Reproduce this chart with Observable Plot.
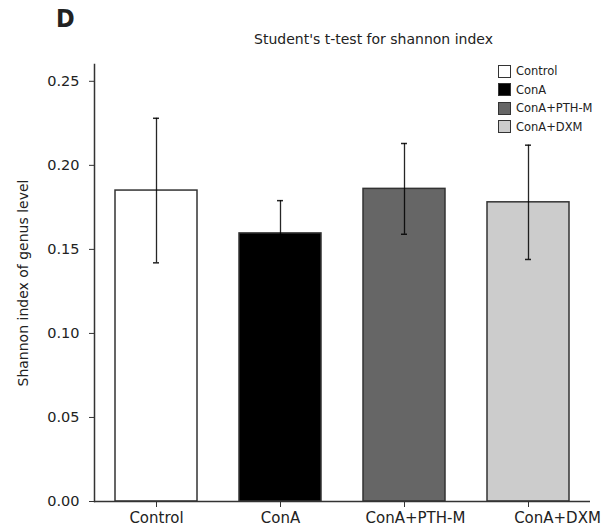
<!DOCTYPE html>
<html>
<head>
<meta charset="utf-8">
<script src="https://cdn.jsdelivr.net/npm/d3@7"></script>
<script src="https://cdn.jsdelivr.net/npm/@observablehq/plot@0.6"></script>
<style>
  html, body { margin: 0; padding: 0; background: #fff; }
  #wrap { position: relative; width: 605px; height: 531px; font-family: "DejaVu Sans", sans-serif; color: #222; }
  #wrap svg { position: absolute; left: 0; top: 0; }
  #panel { position: absolute; left: 56px; top: 4px; font-size: 25px; font-weight: bold; font-family: "DejaVu Sans Condensed", "DejaVu Sans", sans-serif; }
  #title { position: absolute; left: 0; width: 747px; top: 31px; text-align: center; font-size: 14px; }
  #legend { position: absolute; left: 498px; top: 62px; font-size: 11.5px; line-height: 18.5px; }
  #legend .row { display: flex; align-items: center; }
  #legend .sw { border: 1px solid #333; margin-right: 5px; box-sizing: border-box; width: 13px; height: 13px; }
</style>
</head>
<body>
<div id="wrap">
  <div id="panel">D</div>
  <div id="title">Student's t-test for shannon index</div>
  <div id="legend"></div>
</div>
<script>
// Groups, mean Shannon index and error half-widths
const groups = ["Control", "ConA", "ConA+PTH-M", "ConA+DXM"];
const means = [0.185, 0.1595, 0.186, 0.178];
const errors = [0.043, 0.0195, 0.027, 0.034];
const fills = ["#ffffff", "#000000", "#666666", "#cccccc"];
const yTicks = [0, 0.05, 0.10, 0.15, 0.20, 0.25];

const rows = groups.map((g, i) => ({group: g, mean: means[i], lo: means[i] - errors[i], hi: means[i] + errors[i]}));

const ink = "#333";
const whisker = "#000";
const fontFamily = '"DejaVu Sans", sans-serif';

const chart = Plot.plot({
  width: 605,
  height: 531,
  marginLeft: 94,
  marginRight: 15,
  marginTop: 64,
  marginBottom: 30,
  style: {fontFamily, fontSize: "14.5px", color: "#222", background: "transparent"},
  x: {domain: groups, paddingInner: 0.34, paddingOuter: 0.17},
  y: {domain: [0, 0.26]},
  color: {domain: groups, range: fills},
  marks: [
    Plot.barY(rows, {x: "group", y: "mean", fill: "group", stroke: ink, strokeWidth: 1.5}),
    Plot.ruleX(rows, {x: "group", y1: "lo", y2: "hi", stroke: whisker, strokeWidth: 1.3, strokeOpacity: 0.85}),
    Plot.tickY(rows, {x: "group", y: "lo", stroke: whisker, strokeWidth: 1.5, strokeOpacity: 0.85, insetLeft: 38, insetRight: 38}),
    Plot.tickY(rows, {x: "group", y: "hi", stroke: whisker, strokeWidth: 1.5, strokeOpacity: 0.85, insetLeft: 38, insetRight: 38}),
    Plot.axisY({ticks: yTicks, tickFormat: d3.format(".2f"), tickSize: 5, tickPadding: 10, stroke: ink,
      label: "Shannon index of genus level", labelAnchor: "center", labelArrow: "none", labelOffset: 76,
      fontSize: 14.5}),
    Plot.axisX({tickSize: 6, tickPadding: 5, stroke: ink, label: null, fontSize: 15}),
    Plot.frame({anchor: "left", stroke: ink, strokeWidth: 1.5}),
    Plot.ruleY([0], {stroke: ink, strokeWidth: 1.5})
  ]
});

// nudge the longer category labels to the right, as laid out in the figure
const nudge = {"ConA+PTH-M": 11, "ConA+DXM": 29};
d3.select(chart).selectAll("[aria-label='x-axis tick label'] text").each(function() {
  const t = this.textContent;
  if (nudge[t]) this.setAttribute("dx", nudge[t]);
});
d3.select(chart).selectAll("[aria-label='y-axis label'] text").attr("font-size", 14);

document.getElementById("wrap").appendChild(chart);

// Legend
const legend = d3.select("#legend");
groups.forEach((g, i) => {
  const row = legend.append("div").attr("class", "row");
  row.append("div").attr("class", "sw").style("background", fills[i]);
  row.append("span").text(g);
});
</script>
</body>
</html>
